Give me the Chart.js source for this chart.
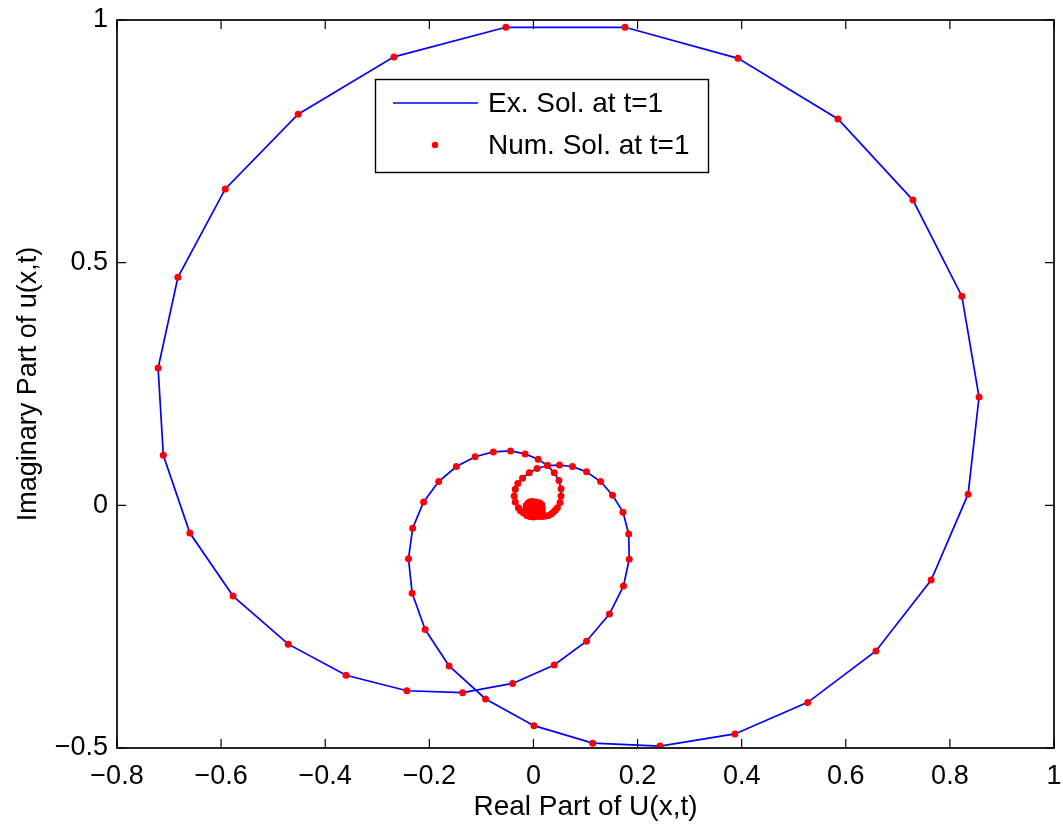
<!DOCTYPE html>
<html>
<head>
<meta charset="utf-8">
<title>Solution at t=1</title>
<script src="https://cdn.jsdelivr.net/npm/chart.js@4.4.1/dist/chart.umd.min.js"></script>
<style>
    body { margin: 0; background: #fff; }
    #wrap { width: 1063px; height: 826px; }
</style>
</head>
<body>
<div id="wrap"><canvas id="plot" width="1063" height="826"></canvas></div>
<script>
/* =========================
   DATA
========================= */

// real and imaginary parts of u(x,1), in order along x
// (both tails wind into the origin)
const reVals = [
    0.000, 0.002, 0.002, 0.000, -0.002, -0.001, 0.003, 0.006, 0.006, 0.003,
    -0.002, -0.006, -0.007, -0.005, 0.000, 0.006, 0.012, 0.016, 0.017, 0.017,
    0.013, 0.007, 0.000, -0.007, -0.013, -0.019, -0.025, -0.029,
    -0.035, -0.037, -0.035, -0.030, -0.021, -0.008, 0.007, 0.027, 0.050, 0.075,
    0.102, 0.129, 0.152, 0.172, 0.183, 0.184, 0.173, 0.146, 0.102, 0.040,
    -0.040, -0.136, -0.243, -0.360, -0.471, -0.577, -0.660, -0.711, -0.721, -0.683,
    -0.592, -0.452, -0.268, -0.053, 0.176, 0.393, 0.585, 0.729, 0.823, 0.856,
    0.835, 0.764, 0.658, 0.527, 0.387, 0.243, 0.114, 0.001, -0.092, -0.162,
    -0.208, -0.233, -0.240, -0.232, -0.211, -0.182, -0.148, -0.112, -0.077, -0.044,
    -0.016, 0.009, 0.027, 0.040, 0.049, 0.053, 0.053, 0.051, 0.046,
    0.042, 0.038, 0.034, 0.029, 0.023, 0.018, 0.012, 0.007, 0.001, -0.005,
    -0.009, -0.012, -0.014, -0.014, -0.013, -0.010, -0.007, -0.003, 0.001, 0.004,
    0.007, 0.007, 0.006, 0.004, 0.002, -0.001, -0.002, -0.003, -0.002, 0.000,
    0.002, 0.000, 0.000
];

const imVals = [
    -0.002, -0.001, -0.004, -0.005, -0.002, 0.001, 0.002, -0.001, -0.006, -0.009,
    -0.010, -0.007, -0.002, 0.003, 0.006, 0.007, 0.005, 0.001, -0.006, -0.012,
    -0.018, -0.022, -0.024, -0.023, -0.021, -0.016, -0.011, -0.005,
    0.007, 0.019, 0.033, 0.045, 0.056, 0.067, 0.076, 0.082, 0.083, 0.080,
    0.069, 0.049, 0.021, -0.014, -0.059, -0.111, -0.166, -0.224, -0.280, -0.329,
    -0.367, -0.386, -0.382, -0.350, -0.286, -0.187, -0.057, 0.103, 0.283, 0.470,
    0.652, 0.806, 0.924, 0.985, 0.985, 0.921, 0.796, 0.629, 0.431, 0.223,
    0.023, -0.154, -0.300, -0.406, -0.471, -0.496, -0.490, -0.454, -0.399, -0.331,
    -0.256, -0.181, -0.110, -0.047, 0.007, 0.049, 0.080, 0.100, 0.110, 0.112,
    0.106, 0.095, 0.082, 0.067, 0.051, 0.034, 0.019, 0.006, -0.005,
    -0.010, -0.014, -0.018, -0.021, -0.022, -0.023, -0.023, -0.022, -0.020, -0.018,
    -0.015, -0.011, -0.007, -0.002, 0.001, 0.005, 0.007, 0.008, 0.007, 0.005,
    0.002, -0.001, -0.005, -0.007, -0.008, -0.007, -0.005, -0.002, -0.001, 0.000,
    -0.002, -0.004, -0.003
];

const xTicks = [-0.8, -0.6, -0.4, -0.2, 0, 0.2, 0.4, 0.6, 0.8, 1];
const yTicks = [-0.5, 0, 0.5, 1];

const seriesNames = ["Ex. Sol. at t=1", "Num. Sol. at t=1"];

/* =========================
   HELPERS
========================= */

const FONT = "'Liberation Sans', Arial, Helvetica, sans-serif";
const TICK_LEN = 9;

function fmtTick(v) {
    let s = String(Math.round(v * 10) / 10);
    return s.replace("-", "\u2212");
}

const points = reVals.map((x, i) => ({ x: x, y: imVals[i] }));

/* =========================
   PLUGINS
========================= */

// box round the axes with inward ticks on all four sides
const boxPlugin = {
    id: "box",
    afterDatasetsDraw(chart) {
        const { ctx, chartArea: a, scales } = chart;
        ctx.save();
        ctx.strokeStyle = "#000";
        ctx.lineWidth = 1.7;
        ctx.strokeRect(a.left, a.top, a.right - a.left, a.bottom - a.top);

        ctx.lineWidth = 1.2;
        ctx.beginPath();
        xTicks.forEach(v => {
            const px = scales.x.getPixelForValue(v);
            ctx.moveTo(px, a.bottom);
            ctx.lineTo(px, a.bottom - TICK_LEN);
            ctx.moveTo(px, a.top);
            ctx.lineTo(px, a.top + TICK_LEN);
        });
        yTicks.forEach(v => {
            const py = scales.y.getPixelForValue(v);
            ctx.moveTo(a.left, py);
            ctx.lineTo(a.left + TICK_LEN, py);
            ctx.moveTo(a.right, py);
            ctx.lineTo(a.right - TICK_LEN, py);
        });
        ctx.stroke();
        ctx.restore();
    }
};

// legend box inside the axes
const legendBox = {
    id: "legendBox",
    afterDraw(chart) {
        const ctx = chart.ctx;
        const ds = chart.data.datasets;
        const x0 = 375.5, y0 = 79.5, w = 333, h = 93;

        ctx.save();
        ctx.fillStyle = "#fff";
        ctx.fillRect(x0, y0, w, h);
        ctx.strokeStyle = "#000";
        ctx.lineWidth = 1.4;
        ctx.strokeRect(x0, y0, w, h);

        // line sample
        ctx.strokeStyle = ds[0].borderColor;
        ctx.lineWidth = ds[0].borderWidth;
        ctx.beginPath();
        ctx.moveTo(393, 103);
        ctx.lineTo(478, 103);
        ctx.stroke();

        // marker sample
        ctx.fillStyle = ds[1].backgroundColor;
        ctx.beginPath();
        ctx.arc(435, 145, 3.2, 0, Math.PI * 2);
        ctx.fill();

        ctx.fillStyle = "#000";
        ctx.font = "28px " + FONT;
        ctx.textBaseline = "middle";
        ctx.textAlign = "left";
        ctx.fillText(ds[0].label, 488, 104);
        ctx.fillText(ds[1].label, 488, 146);
        ctx.restore();
    }
};

/* =========================
   CHART
========================= */

new Chart(document.getElementById("plot"), {
    type: "scatter",
    data: {
        datasets: [
            {
                label: seriesNames[0],
                data: points,
                showLine: true,
                borderColor: "#0000ff",
                borderWidth: 1.7,
                pointRadius: 0,
                pointHoverRadius: 0,
                order: 1
            },
            {
                label: seriesNames[1],
                data: points,
                showLine: false,
                backgroundColor: "#ff0000",
                borderWidth: 0,
                pointRadius: 3.5,
                order: 0
            }
        ]
    },
    options: {
        responsive: false,
        animation: false,
        layout: { padding: { top: 20, right: 9, left: 0, bottom: 0 } },
        plugins: {
            legend: { display: false },
            tooltip: { enabled: false }
        },
        scales: {
            x: {
                type: "linear",
                min: -0.8,
                max: 1,
                afterBuildTicks: s => { s.ticks = xTicks.map(v => ({ value: v })); },
                afterFit: s => {
                    s.height = 78;
                    s.paddingLeft = 0;
                    s.paddingRight = 0;
                },
                grid: { display: false, drawTicks: false },
                border: { display: false },
                ticks: {
                    color: "#000",
                    padding: 12,
                    autoSkip: false,
                    maxRotation: 0,
                    font: { size: 27, family: FONT },
                    callback: v => fmtTick(v)
                },
                title: {
                    display: true,
                    text: "Real Part of U(x,t)",
                    color: "#000",
                    font: { size: 28, family: FONT },
                    padding: { top: 0, bottom: 2 }
                }
            },
            y: {
                type: "linear",
                min: -0.5,
                max: 1,
                afterBuildTicks: s => { s.ticks = yTicks.map(v => ({ value: v })); },
                afterFit: s => {
                    s.width = 117;
                    s.paddingTop = 0;
                    s.paddingBottom = 0;
                },
                grid: { display: false, drawTicks: false },
                border: { display: false },
                ticks: {
                    color: "#000",
                    padding: 9,
                    autoSkip: false,
                    font: { size: 27, family: FONT },
                    callback: v => fmtTick(v)
                },
                title: {
                    display: true,
                    text: "Imaginary Part of u(x,t)",
                    color: "#000",
                    font: { size: 27, family: FONT },
                    padding: { top: 12, bottom: 0 }
                }
            }
        }
    },
    plugins: [boxPlugin, legendBox]
});
</script>
</body>
</html>
